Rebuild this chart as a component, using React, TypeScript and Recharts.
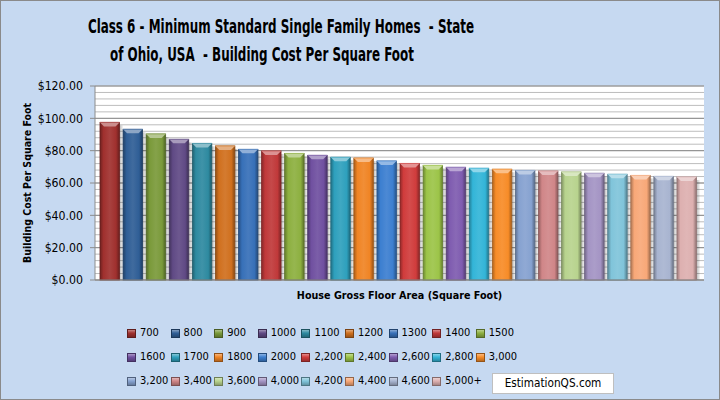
import React from 'react';
import { BarChart, Bar, XAxis, YAxis, CartesianGrid, Cell } from 'recharts';

const sizes = [
  '700', '800', '900', '1000', '1100', '1200', '1300', '1400', '1500',
  '1600', '1700', '1800', '2000', '2,200', '2,400', '2,600', '2,800', '3,000',
  '3,200', '3,400', '3,600', '4,000', '4,200', '4,400', '4,600', '5,000+',
];

const costs = [
  97.5, 93.2, 90.3, 87.0, 84.5, 82.9, 80.8, 79.8, 78.3,
  77.1, 75.9, 75.4, 73.6, 72.1, 70.9, 69.7, 69.1, 68.5,
  67.8, 67.4, 66.8, 66.0, 65.4, 64.7, 64.1, 63.7,
];

const colors = [
  '#A0302E', '#2F5E96', '#7A9A3A', '#604A85', '#2E8AA0', '#D0701E', '#3770B8', '#C0393A', '#8DB040',
  '#7050A0', '#2EA0BD', '#F08424', '#3C7FD0', '#D03C3C', '#9CC448', '#7F5CB0', '#33B5D8', '#F78C28',
  '#86A2D0', '#D08688', '#B8D38E', '#A494C4', '#80C4DA', '#F8A878', '#A8B4D0', '#DDB0B0',
];

const yTicks = [0, 20, 40, 60, 80, 100, 120];

const data = sizes.map((size, i) => ({ size, cost: costs[i] }));

// minor gridlines every $4
const minorTicks: number[] = [];
for (let v = 0; v <= 120; v += 4) minorTicks.push(v);

const FONT = '"DejaVu Sans Condensed", Roboto, sans-serif';

function mix(hex: string, other: string, t: number) {
  const a = parseInt(hex.slice(1), 16);
  const b = parseInt(other.slice(1), 16);
  const ch = (n: number, s: number) => (n >> s) & 255;
  const m = (s: number) => Math.round(ch(a, s) * (1 - t) + ch(b, s) * t);
  return `rgb(${m(16)},${m(8)},${m(0)})`;
}

const BevelBar = (props: any) => {
  const { x, y, width, height, fill, index } = props;
  if (!height || height <= 0) return null;
  const id = `bar-grad-${index}`;
  const b = 4;
  const dark = mix(fill, '#000000', 0.35);
  return (
    <g>
      <defs>
        <linearGradient id={id} x1="0" y1="0" x2="1" y2="0">
          <stop offset="0%" stopColor={mix(fill, '#000000', 0.3)} />
          <stop offset="18%" stopColor={fill} />
          <stop offset="50%" stopColor={mix(fill, '#ffffff', 0.08)} />
          <stop offset="82%" stopColor={fill} />
          <stop offset="100%" stopColor={mix(fill, '#000000', 0.35)} />
        </linearGradient>
      </defs>
      <rect x={x + width} y={y + 3} width={4} height={height - 3} fill="url(#bar-shadow)" />
      <rect x={x} y={y} width={width} height={height} fill={`url(#${id})`} stroke={dark} strokeWidth={0.8} />
      <polygon
        points={`${x},${y} ${x + width},${y} ${x + width - b},${y + b} ${x + b},${y + b}`}
        fill={mix(fill, '#ffffff', 0.45)}
      />
      <line x1={x} y1={y} x2={x + width} y2={y} stroke={mix(fill, '#ffffff', 0.2)} strokeWidth={1} />
    </g>
  );
};

const titleLine: React.CSSProperties = {
  position: 'absolute', left: 0, textAlign: 'center', fontSize: 19.5, lineHeight: '22px',
  fontWeight: 'bold', whiteSpace: 'pre', transform: 'scaleX(0.68)',
};

const Title = () => (
  <>
    <div style={{ ...titleLine, top: 15, width: 543 }}>
      {'Class 6 - Minimum Standard Single Family Homes  - State'}
    </div>
    <div style={{ ...titleLine, top: 43, width: 522 }}>
      {'of Ohio, USA  - Building Cost Per Square Foot'}
    </div>
  </>
);

const LegendBox = () => (
  <div
    style={{
      position: 'absolute', left: 126, top: 323,
      display: 'grid', gridTemplateColumns: 'repeat(9, 43.6px)', rowGap: 6,
      fontSize: 11, lineHeight: '18px',
    }}
  >
    {sizes.map((s, i) => (
      <div key={s} style={{ display: 'flex', alignItems: 'center', whiteSpace: 'nowrap' }}>
        <span
          style={{
            display: 'inline-block', width: 7, height: 7, marginRight: 4, flex: 'none',
            background: `linear-gradient(180deg, ${mix(colors[i], '#ffffff', 0.4)} 0%, ${colors[i]} 45%, ${mix(colors[i], '#000000', 0.25)} 100%)`,
            border: `0.5px solid ${mix(colors[i], '#000000', 0.4)}`,
          }}
        />
        {s}
      </div>
    ))}
  </div>
);

export default function App() {
  return (
    <div
      style={{
        position: 'absolute', left: 0, top: 0, width: 720, height: 400, boxSizing: 'border-box',
        border: '1px solid #8a8a8a', background: '#C6D9F1', fontFamily: FONT, color: '#000',
        overflow: 'hidden',
      }}
    >
      <Title />
      <div style={{ position: 'absolute', left: -1, top: -1 }}>
        <BarChart
          width={720}
          height={400}
          data={data}
          margin={{ top: 86, right: 16, bottom: 90, left: 0 }}
          style={{ fontFamily: FONT }}
        >
          <defs>
            <linearGradient id="bar-shadow" x1="0" y1="0" x2="1" y2="0">
              <stop offset="0%" stopColor="#000" stopOpacity={0.28} />
              <stop offset="100%" stopColor="#000" stopOpacity={0} />
            </linearGradient>
          </defs>
          <CartesianGrid vertical={false} horizontalValues={minorTicks} stroke="#BDBDBD" fill="#ffffff" strokeWidth={1} />
          <CartesianGrid vertical={false} horizontalValues={yTicks} stroke="#8C8C8C" strokeWidth={1} />
          <XAxis
            dataKey="size"
            tick={false}
            tickLine={false}
            axisLine={{ stroke: '#8C8C8C' }}
            height={30}
            padding={{ left: 3, right: 6 }}
            label={{
              content: (p: any) => (
                <text
                  x={p.viewBox.x + p.viewBox.width / 2}
                  y={p.viewBox.y + 19}
                  textAnchor="middle"
                  fontWeight="bold"
                  fontSize={10.7}
                  fill="#000"
                >
                  House Gross Floor Area (Square Foot)
                </text>
              ),
            }}
          />
          <YAxis
            width={95}
            domain={[0, 120]}
            ticks={yTicks}
            interval={0}
            tickFormatter={(v: number) => `$${v.toFixed(2)}`}
            tick={{ fill: '#000', fontSize: 12.2 }}
            tickLine={{ stroke: '#8C8C8C' }}
            tickSize={5}
            tickMargin={7}
            axisLine={{ stroke: '#8C8C8C' }}
            label={{
              content: (p: any) => (
                <text
                  transform={`translate(31, ${p.viewBox.y + p.viewBox.height / 2}) rotate(-90)`}
                  textAnchor="middle"
                  fontWeight="bold"
                  fontSize={10.5}
                  fill="#000"
                >
                  Building Cost Per Square Foot
                </text>
              ),
            }}
          />
          <YAxis yAxisId="frame" orientation="right" width={0} tick={false} tickLine={false} axisLine={{ stroke: '#A6A6A6' }} />
          <Bar dataKey="cost" barSize={19.5} shape={BevelBar} isAnimationActive={false}>
            {data.map((d, i) => (
              <Cell key={d.size} fill={colors[i]} />
            ))}
          </Bar>
        </BarChart>
      </div>
      <LegendBox />
      <div
        style={{
          position: 'absolute', left: 491, top: 372, width: 122, height: 21, boxSizing: 'border-box',
          background: '#fff', border: '1px solid #BFBFBF', fontSize: 11.7, lineHeight: '19px', textAlign: 'center',
        }}
      >
        EstimationQS.com
      </div>
    </div>
  );
}
